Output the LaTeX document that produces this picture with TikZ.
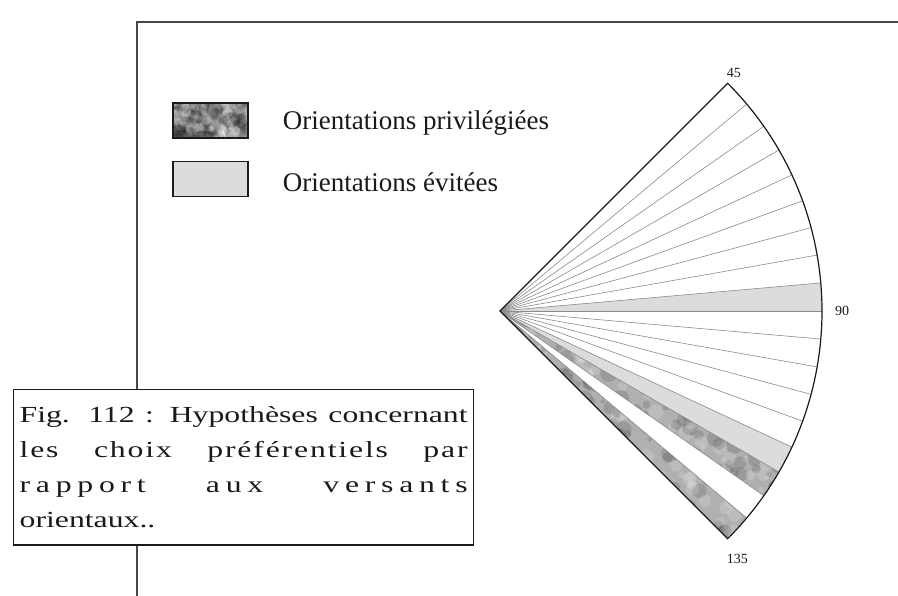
\documentclass[tikz,border=0pt]{standalone}
\usepackage{fontspec}
\setmainfont{Liberation Serif}
\newfontfamily\capfont[FakeStretch=1.38]{Liberation Serif}
\usetikzlibrary{positioning,calc}
\definecolor{Ink}{HTML}{1A1A1A}
\definecolor{Frame}{HTML}{474747}
\definecolor{Avoid}{HTML}{DCDCDC}
\definecolor{Ray}{HTML}{8A8A8A}
\tikzset{
  mottled/.style={fill=gray!62, path picture={
      \path (path picture bounding box.south west) coordinate (sw)
            (path picture bounding box.north east) coordinate (ne);
      \pgfmathsetseed{#1}
      \foreach \k in {1,...,220}{
        \pgfmathsetmacro\ux{rnd}\pgfmathsetmacro\vy{rnd}\pgfmathsetmacro\rr{2+7*rnd}
        \fill[black, opacity=.12] let \p1=(sw), \p2=(ne) in
          ({\x1+\ux*(\x2-\x1)},{\y1+\vy*(\y2-\y1)}) circle (\rr);
        \pgfmathsetmacro\ux{rnd}\pgfmathsetmacro\vy{rnd}\pgfmathsetmacro\rr{2+6*rnd}
        \fill[white, opacity=.16] let \p1=(sw), \p2=(ne) in
          ({\x1+\ux*(\x2-\x1)},{\y1+\vy*(\y2-\y1)}) circle (\rr);
      }}},
  mottled/.default=3,
  legbox/.style={draw=Ink, line width=1.3pt, minimum width=75pt, minimum height=35pt, inner sep=0pt},
  legtext/.style={inner sep=0pt, text=Ink, font=\fontsize{27}{32}\selectfont},
  anglab/.style={inner sep=1pt, text=Ink, font=\fontsize{14}{16}\selectfont},
  capbox/.style={draw=Ink, fill=white, line width=1.3pt, text width=448pt, inner xsep=6pt,
    inner ysep=17pt, align=justify, text=Ink, font=\capfont\fontsize{23}{35}\selectfont},
  ray/.style={draw=Ray, line width=0.6pt},
  edge/.style={draw=Ink, line width=1.2pt, line join=miter},
  frame/.style={draw=Frame, line width=2pt},
}

\begin{document}
\begin{tikzpicture}[x=1pt, y=1pt]
  \useasboundingbox (0,0) rectangle (898,-596);
  \fill[white] (0,0) rectangle (898,-596);
  \draw[frame] (137,-596) -- (137,-22) -- (898,-22);

  % fan of orientations, 5 degree sectors
  \coordinate (apex) at (500,-311);
  \fill[Avoid] (apex) -- ++(5:322) arc[start angle=5, end angle=0, radius=322] -- cycle;
  \fill[Avoid] (apex) -- ++(-25:322) arc[start angle=-25, end angle=-30, radius=322] -- cycle;
  \path[mottled=5] (apex) -- ++(-30:322) arc[start angle=-30, end angle=-35, radius=322] -- cycle;
  \path[mottled=9] (apex) -- ++(-40:322) arc[start angle=-40, end angle=-45, radius=322] -- cycle;
  \foreach \a in {40,35,...,-40}
    \draw[ray] (apex) -- ++(\a:322);
  \draw[edge] (apex) -- ++(45:322) coordinate (n45)
    arc[start angle=45, end angle=-45, radius=322] coordinate (n135) -- cycle;
  \coordinate (n90) at ($(apex)+(0:322)$);

  \node[anglab, above right=4pt and -2pt of n45] (l45) {45};
  \node[anglab, right=12pt of n90] (l90) {90};
  \node[anglab, below right=14pt and -2pt of n135] (l135) {135};

  % legend
  \node[legbox, mottled=2] (priv) at (210.5,-120.5) {};
  \node[legbox, fill=Avoid, below=22pt of priv] (evit) {};
  \node[legtext, right=34pt of priv, yshift=-3pt] (privtxt) {Orientations privilégiées};
  \node[legtext, right=34pt of evit, yshift=-3pt] (evittxt) {Orientations évitées};

  % caption
  \node[capbox, anchor=north west] (cap) at (13,-389)
    {Fig. 112 : Hypothèses concernant\linebreak
     {\addfontfeature{LetterSpace=8}les choix préférentiels par}\linebreak
     {\addfontfeature{LetterSpace=25}rapport aux versants}\linebreak
     orientaux..};
\end{tikzpicture}
\end{document}
